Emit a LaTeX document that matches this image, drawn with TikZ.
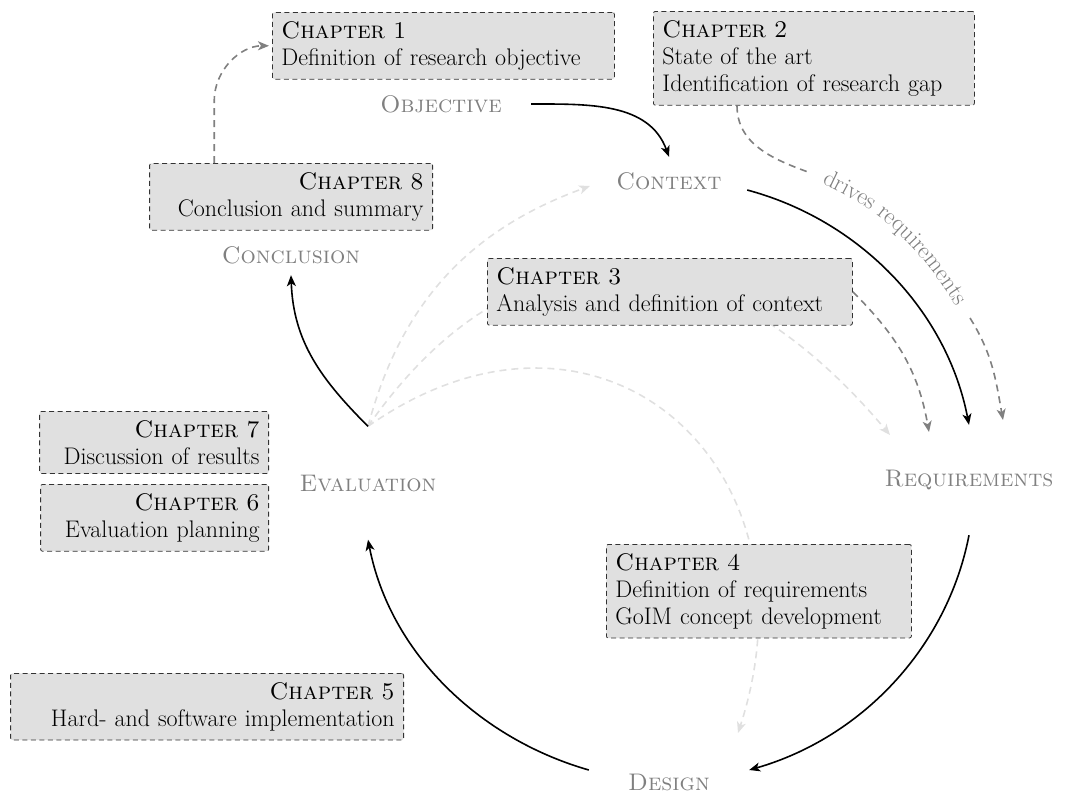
\documentclass[tikz,border=0pt]{standalone}
\usetikzlibrary{arrows.meta,decorations.text}

\tikzset{
  base/.style={font=\fontsize{24}{27}\selectfont},
  chapbox/.style={base, draw=black!80, dash pattern=on 5pt off 3.5pt, line width=0.8pt,
    fill=black!12, rounded corners=2pt, inner xsep=9pt, inner ysep=9pt},
  lbox/.style={chapbox, align=left},
  rbox/.style={chapbox, align=right},
  phase/.style={text=black!50, font=\fontsize{24}{27}\selectfont\scshape, inner sep=0pt},
  tip/.style={-{Stealth[length=11pt,width=9pt,inset=3pt]}},
  flow/.style={tip, line width=1.6pt},
  cyc/.style={flow, looseness=0.92},
  dep/.style={tip, black!50, line width=1.6pt, dash pattern=on 7pt off 5pt},
  faint/.style={tip, black!12, line width=1.6pt, dash pattern=on 7pt off 5pt},
}

\begin{document}
\begin{tikzpicture}[x=1pt,y=1pt]
\useasboundingbox (0,0) rectangle (1071,-796);

% phases of the research cycle
\node[phase, minimum width=180pt, minimum height=30pt] (obj) at (441,-104) {Objective};
\node[phase, minimum width=156pt, minimum height=48pt] (ctx) at (669,-181) {Context};
\node[phase, minimum height=110pt] (req) at (969,-480) {Requirements};
\node[phase, minimum width=160pt] (des) at (669,-782) {Design};
\node[phase, minimum height=113pt] (eva) at (368,-483) {Evaluation};
\node[phase, minimum height=40pt] (con) at (291,-255) {Conclusion};

% feedback from the evaluation (behind the chapter boxes)
\coordinate (fc) at (590,-186);
\coordinate (fr) at (890,-435);
\coordinate (fd) at (738,-733);
\draw[faint] (eva.north) to[out=75, in=200] (fc);
\draw[faint] (eva.north) to[out=55, in=130, looseness=1.3] (fr);
\draw[faint] (eva.north) to[out=35, in=72, looseness=1.5] (fd);

% chapters
\node[lbox, text width=324pt, anchor=north west] (ch1) at (272,-12) {\textsc{Chapter 1}\\Definition of research objective};
\node[lbox, text width=303pt, anchor=north west] (ch2) at (653,-11) {\textsc{Chapter 2}\\State of the art\\Identification of research gap};
\node[lbox, text width=347pt, anchor=north west] (ch3) at (487,-258) {\textsc{Chapter 3}\\Analysis and definition of context};
\node[lbox, text width=287pt, anchor=north west] (ch4) at (606,-544) {\textsc{Chapter 4}\\Definition of requirements\\GoIM concept development};
\node[rbox, text width=375pt, anchor=north east] (ch5) at (404,-673) {\textsc{Chapter 5}\\Hard- and software implementation};
\node[rbox, text width=210pt, anchor=north east] (ch6) at (269,-484) {\textsc{Chapter 6}\\Evaluation planning};
\node[rbox, text width=211pt, anchor=north east] (ch7) at (269,-411) {\textsc{Chapter 7}\\Discussion of results};
\node[rbox, text width=265pt, anchor=north east] (ch8) at (433,-163) {\textsc{Chapter 8}\\Conclusion and summary};

% main cycle
\draw[flow] (obj.east) to[out=0, in=110] (ctx.north);
\draw[cyc] ([yshift=-9pt]ctx.east) to[out=-15, in=101] (req.north);
\draw[cyc] (req.south) to[out=-101, in=16] ([yshift=12pt]des.east);
\draw[cyc] ([yshift=12pt]des.west) to[out=164, in=-79] (eva.south);
\draw[flow] (eva.north) to[out=135, in=-88] (con.south);

% dependencies between chapters
\draw[dep, shorten >=3pt] ([xshift=65pt]ch8.north west) -- ++(0,62) to[out=90, in=180] (ch1.west);

\coordinate (d1) at (808,-172);
\coordinate (d2) at (970,-318);
\coordinate (d3) at (1003,-420);
\draw[dep, -] ([xshift=84pt]ch2.south west) to[out=-90, in=160] (d1);
\path[decorate, decoration={text along path, text align=center, raise=-5pt,
  text={|\color{black!50}\fontsize{24}{27}\selectfont|drives requirements}}]
  (d1) to[out=-22, in=122] (d2);
\draw[dep] (d2) to[out=-58, in=100] (d3);

\coordinate (d4) at (929,-432);
\draw[dep] (ch3.east) to[out=-45, in=100] (d4);
\end{tikzpicture}
\end{document}
